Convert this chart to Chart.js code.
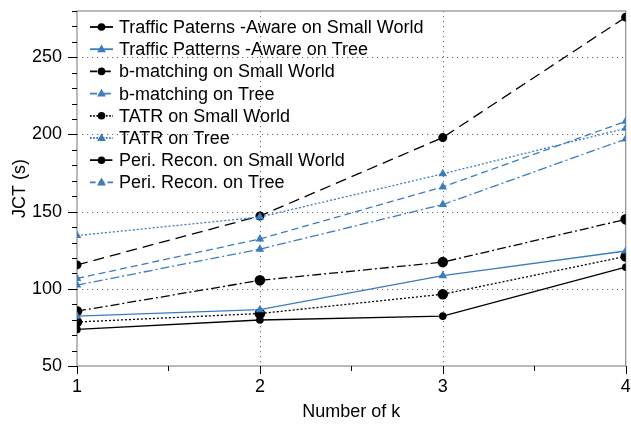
<!DOCTYPE html>
<html>
<head>
<meta charset="utf-8">
<script src="https://cdn.jsdelivr.net/npm/chart.js@4.4.0/dist/chart.umd.min.js"></script>
<style>
html,body{margin:0;padding:0;background:#fff;}
#wrap{width:631px;height:425px;}
</style>
</head>
<body>
<div id="wrap"><canvas id="c" width="631" height="425"></canvas></div>
<script>
const kValues = [1, 2, 3, 4];
const tpaSmallWorld = [73.7, 79.8, 82.3, 114];
const tpaTree = [82.3, 86.5, 108.5, 124.5];
const bmSmallWorld = [85.5, 105.5, 117.3, 145];
const bmTree = [102.4, 125.7, 154.6, 197];
const tatrSmallWorld = [78.5, 84, 96.5, 121];
const tatrTree = [134.5, 146.5, 174.5, 204];
const periSmallWorld = [115.5, 147.2, 198, 276];
const periTree = [106.7, 132.3, 166, 208.5];
const yMajorTicks = [50, 100, 150, 200, 250];

const BLACK = '#000000';
const BLUE = '#3a7dbf';
const FONT = "'Liberation Sans', Arial, Helvetica, sans-serif";

function ds(label, data, color, dash, pointStyle, radius) {
  return {
    label, data, borderColor: color, backgroundColor: color,
    borderWidth: 1.3, borderDash: dash, pointStyle, pointRadius: radius,
    pointHoverRadius: radius, pointBorderWidth: 0, tension: 0, fill: false
  };
}

const datasets = [
  ds('Traffic Paterns -Aware on Small World', tpaSmallWorld, BLACK, [], 'circle', 3.8),
  ds('Traffic Patterns -Aware on Tree', tpaTree, BLUE, [], 'triangle', 5),
  ds('b-matching on Small World', bmSmallWorld, BLACK, [9, 3, 2, 3], 'circle', 5.3),
  ds('b-matching on Tree', bmTree, BLUE, [9, 3, 2, 3], 'triangle', 5),
  ds('TATR on Small World', tatrSmallWorld, BLACK, [2, 2], 'circle', 5.3),
  ds('TATR on Tree', tatrTree, BLUE, [2, 2], 'triangle', 5),
  ds('Peri. Recon. on Small World', periSmallWorld, BLACK, [11, 6], 'circle', 4.5),
  ds('Peri. Recon. on Tree', periTree, BLUE, [7, 4], 'triangle', 5)
];

function drawMarker(ctx, style, x, y, r, color) {
  ctx.save();
  ctx.fillStyle = color;
  ctx.setLineDash([]);
  ctx.beginPath();
  if (style === 'circle') {
    ctx.arc(x, y, r, 0, Math.PI * 2);
  } else {
    const s = r;
    ctx.moveTo(x, y - s * 1.2);
    ctx.lineTo(x + s * 1.1, y + s * 0.75);
    ctx.lineTo(x - s * 1.1, y + s * 0.75);
    ctx.closePath();
  }
  ctx.fill();
  ctx.restore();
}

const framePlugin = {
  id: 'frame',
  beforeDatasetsDraw(chart) {
    const {ctx, chartArea: a, scales: {x, y}} = chart;
    ctx.save();
    ctx.strokeStyle = '#6a6a6a';
    ctx.lineWidth = 1;
    ctx.setLineDash([1.2, 3.8]);
    [100, 150, 200, 250].forEach(v => {
      const py = Math.round(y.getPixelForValue(v)) + 0.5;
      ctx.beginPath(); ctx.moveTo(a.left, py); ctx.lineTo(a.right, py); ctx.stroke();
    });
    [2, 3].forEach(v => {
      const px = Math.round(x.getPixelForValue(v)) + 0.5;
      ctx.beginPath(); ctx.moveTo(px, a.top); ctx.lineTo(px, a.bottom); ctx.stroke();
    });
    ctx.setLineDash([]);
    ctx.strokeStyle = '#8c8c8c';
    ctx.lineWidth = 1.2;
    ctx.strokeRect(a.left, a.top, a.right - a.left, a.bottom - a.top);
    ctx.strokeStyle = '#000';
    ctx.lineWidth = 1;
    for (let v = 50; v <= 280; v += 10) {
      const py = Math.round(y.getPixelForValue(v)) + 0.5;
      const len = (v % 50 === 0) ? 9 : 5;
      ctx.beginPath(); ctx.moveTo(a.left - len, py); ctx.lineTo(a.left, py); ctx.stroke();
    }
    for (let v = 1; v <= 4.001; v += 0.5) {
      const px = Math.round(x.getPixelForValue(v)) + 0.5;
      const len = (Math.abs(v - Math.round(v)) < 0.01) ? 8 : 5;
      ctx.beginPath(); ctx.moveTo(px, a.bottom); ctx.lineTo(px, a.bottom + len); ctx.stroke();
    }
    ctx.restore();
  },
  afterDraw(chart) {
    const {ctx, chartArea: a} = chart;
    ctx.save();
    ctx.font = '18px ' + FONT;
    ctx.textBaseline = 'middle';
    const x0 = a.left + 13, x1 = a.left + 36, tx = a.left + 42;
    let yy = a.top + 16;
    chart.data.datasets.forEach(d => {
      ctx.strokeStyle = d.borderColor;
      ctx.lineWidth = 1.8;
      ctx.setLineDash(d.borderDash.map(v => v * 0.8));
      ctx.beginPath(); ctx.moveTo(x0, yy); ctx.lineTo(x1, yy); ctx.stroke();
      drawMarker(ctx, d.pointStyle, (x0 + x1) / 2, yy, d.pointStyle === 'circle' ? 3.8 : 4, d.borderColor);
      ctx.fillStyle = '#000';
      ctx.fillText(d.label, tx, yy + 1);
      yy += 22.2;
    });
    ctx.restore();
  }
};

function zeroPad(s) { s.paddingLeft = 0; s.paddingRight = 0; s.paddingTop = 0; s.paddingBottom = 0; }

new Chart(document.getElementById('c'), {
  type: 'line',
  data: { datasets: datasets.map(d => ({...d, data: d.data.map((v, i) => ({x: kValues[i], y: v}))})) },
  options: {
    responsive: false,
    animation: false,
    events: [],
    layout: { padding: { top: 11, right: 5, left: 0, bottom: 0 } },
    plugins: { legend: { display: false }, tooltip: { enabled: false } },
    scales: {
      x: {
        type: 'linear', min: 1, max: 4,
        grid: { display: false, drawTicks: false },
        border: { display: false },
        ticks: {
          stepSize: 1, autoSkip: false, padding: 10, color: '#000',
          font: { size: 18, family: FONT },
          callback: v => Number.isInteger(v) ? String(v) : ''
        },
        title: { display: true, text: 'Number of k', color: '#000', font: { size: 18, family: FONT }, padding: { top: 6, bottom: 2 } },
        afterFit(s) { s.height = 59; zeroPad(s); }
      },
      y: {
        type: 'linear', min: 50, max: 280,
        grid: { display: false, drawTicks: false },
        border: { display: false },
        ticks: {
          stepSize: 10, autoSkip: false, padding: 15, color: '#000',
          font: { size: 18, family: FONT },
          callback: v => yMajorTicks.includes(v) ? String(v) : ''
        },
        title: { display: true, text: 'JCT (s)', color: '#000', font: { size: 18, family: FONT }, padding: { top: 9, bottom: 4 } },
        afterFit(s) { s.width = 77; zeroPad(s); }
      }
    }
  },
  plugins: [framePlugin]
});
</script>
</body>
</html>
